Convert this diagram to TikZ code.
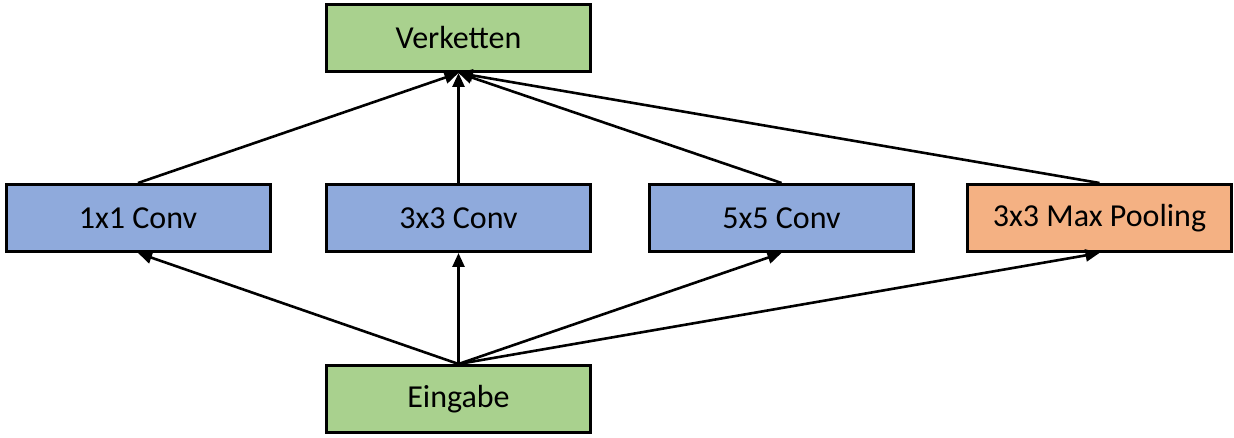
\documentclass[tikz,border=0pt]{standalone}
\usepackage{fontspec}
\setmainfont{Carlito}
\usetikzlibrary{arrows.meta}
\definecolor{boxgreen}{HTML}{A9D18E}
\definecolor{boxblue}{HTML}{8FAADC}
\definecolor{boxorange}{HTML}{F4B183}
\begin{document}
\begin{tikzpicture}[x=1pt,y=-1pt,
  box/.style={draw=black, line width=3pt, minimum width=264pt, minimum height=67pt, inner sep=0pt, font=\fontsize{32}{38}\selectfont, text=black},
  arr/.style={line width=2.6pt, -{Triangle[length=14pt,width=12pt]}}]
\useasboundingbox (0,0) rectangle (1234,438);
\fill[white] (0,0) rectangle (1234,438);
\node[box, fill=boxgreen] (verk) at (458.5,38) {Verketten};
\node[box, fill=boxblue] (c1) at (138,218) {1x1 Conv};
\node[box, fill=boxblue] (c3) at (458.5,218) {3x3 Conv};
\node[box, fill=boxblue] (c5) at (781.5,218) {5x5 Conv};
\node[box, fill=boxorange] (mp) at (1099.5,218) {3x3 Max Pooling};
\node[box, fill=boxgreen] (in) at (458.5,399) {Eingabe};
\draw[arr] (c1.north) -- (verk.south);
\draw[arr] (c3.north) -- (verk.south);
\draw[arr] (c5.north) -- (verk.south);
\draw[arr] (mp.north) -- (verk.south);
\draw[arr] (in.north) -- (c1.south);
\draw[arr] (in.north) -- (c3.south);
\draw[arr] (in.north) -- (c5.south);
\draw[arr] (in.north) -- (mp.south);
\end{tikzpicture}
\end{document}
